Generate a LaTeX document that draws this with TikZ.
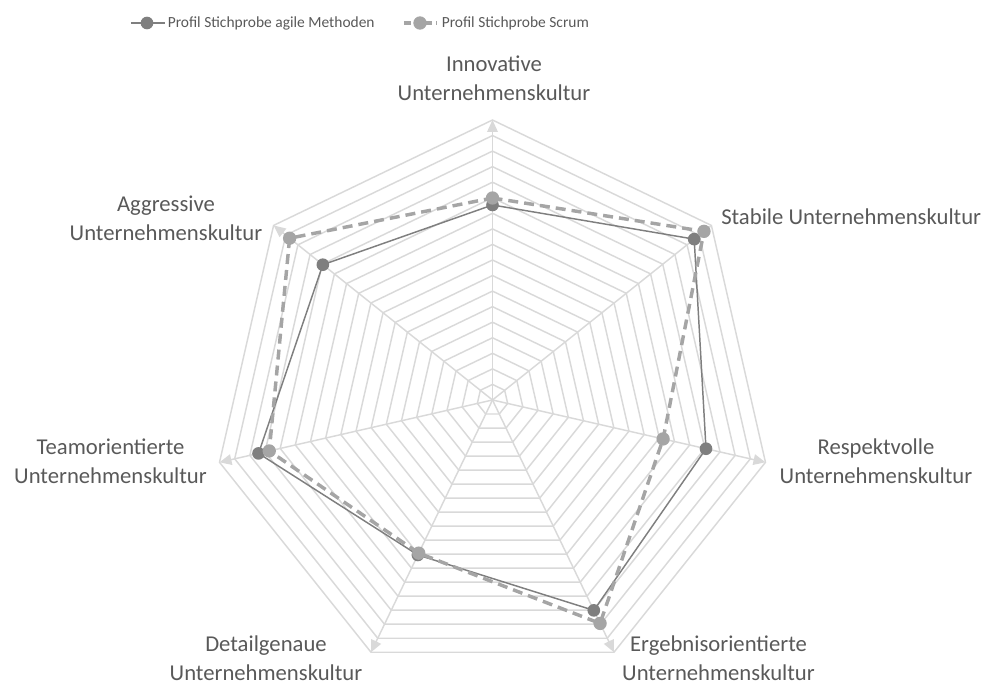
\documentclass[tikz,border=0pt]{standalone}
\usepackage{fontspec}
\setmainfont{Carlito}
\usetikzlibrary{arrows.meta}
\definecolor{gridgray}{HTML}{D9D9D9}
\definecolor{txtgray}{HTML}{595959}
\definecolor{agilegray}{HTML}{7F7F7F}
\definecolor{scrumgray}{HTML}{A5A5A5}

\begin{document}
\begin{tikzpicture}[x=0.75pt,y=0.75pt,
  gridline/.style={draw=gridgray, line width=1.1pt, line join=miter},
  axisline/.style={draw=gridgray, line width=1.1pt, -{Triangle[length=9pt,width=8pt]}},
  agileline/.style={draw=agilegray, line width=1.1pt, line join=round},
  scrumline/.style={draw=scrumgray, line width=2.6pt, dash pattern=on 7.5pt off 4.5pt, line join=round},
  agilemark/.style={circle, fill=agilegray, inner sep=0pt, minimum size=9.5pt},
  scrummark/.style={circle, fill=scrumgray, inner sep=0pt, minimum size=10pt},
  axislabel/.style={text=txtgray, font=\fontsize{17}{21.75}\selectfont, align=center, inner sep=0pt},
  legendtext/.style={text=txtgray, font=\fontsize{11.6}{14}\selectfont, anchor=west, inner sep=0pt}
]
\useasboundingbox (-492.5,-284) rectangle (496.5,400);

% concentric heptagon grid
\foreach \r in {1,...,18} {
  \draw[gridline] (90:{\r*15.5556})
    \foreach \k in {1,...,6} { -- ({90-\k*360/7}:{\r*15.5556}) } -- cycle;
}

% axes with arrow tips
\coordinate (O) at (0,0);
\foreach \k in {0,...,6} {
  \coordinate (ax\k) at ({90-\k*360/7}:280);
  \draw[axisline] (O) -- (ax\k);
}

% axis labels
\node[axislabel] (lInn) at (1.5,322) {Innovative\\Unternehmenskultur};
\node[axislabel, anchor=west] (lStab) at (228.5,183) {Stabile Unternehmenskultur};
\node[axislabel] (lResp) at (383.5,-61.5) {Respektvolle\\Unternehmenskultur};
\node[axislabel] (lErg) at (226,-258) {Ergebnisorientierte\\Unternehmenskultur};
\node[axislabel] (lDet) at (-226.5,-258) {Detailgenaue\\Unternehmenskultur};
\node[axislabel] (lTeam) at (-382,-61.5) {Teamorientierte\\Unternehmenskultur};
\node[axislabel] (lAgg) at (-326.5,182) {Aggressive\\Unternehmenskultur};

% series: agile Methoden
\coordinate (a0) at (90:195);
\coordinate (a1) at ({90-1*360/7}:258);
\coordinate (a2) at ({90-2*360/7}:219);
\coordinate (a3) at ({90-3*360/7}:233.5);
\coordinate (a4) at ({90-4*360/7}:172);
\coordinate (a5) at ({90-5*360/7}:240);
\coordinate (a6) at ({90-6*360/7}:217);
\draw[agileline] (a0) -- (a1) -- (a2) -- (a3) -- (a4) -- (a5) -- (a6) -- cycle;
\foreach \k in {0,...,6} { \node[agilemark] (am\k) at (a\k) {}; }

% series: Scrum
\coordinate (s0) at (90:202);
\coordinate (s1) at ({90-1*360/7}:270.5);
\coordinate (s2) at ({90-2*360/7}:175);
\coordinate (s3) at ({90-3*360/7}:248);
\coordinate (s4) at ({90-4*360/7}:170);
\coordinate (s5) at ({90-5*360/7}:229);
\coordinate (s6) at ({90-6*360/7}:259.5);
\draw[scrumline] (s0) -- (s1) -- (s2) -- (s3) -- (s4) -- (s5) -- (s6) -- cycle;
\foreach \k in {0,...,6} { \node[scrummark] (sm\k) at (s\k) {}; }

% legend
\coordinate (l1s) at (-361.5,377);
\coordinate (l1e) at (-327.5,377);
\draw[agileline] (l1s) -- (l1e);
\node[agilemark] (l1m) at (-345.5,377) {};
\node[legendtext] (l1t) at (-325,377) {Profil Stichprobe agile Methoden};

\coordinate (l2s) at (-88.5,377);
\coordinate (l2e) at (-55.5,377);
\draw[scrumline, dash pattern=on 5pt off 3pt] (l2s) -- (l2e);
\node[scrummark] (l2m) at (-72.5,377) {};
\node[legendtext] (l2t) at (-51,377) {Profil Stichprobe Scrum};
\end{tikzpicture}
\end{document}
